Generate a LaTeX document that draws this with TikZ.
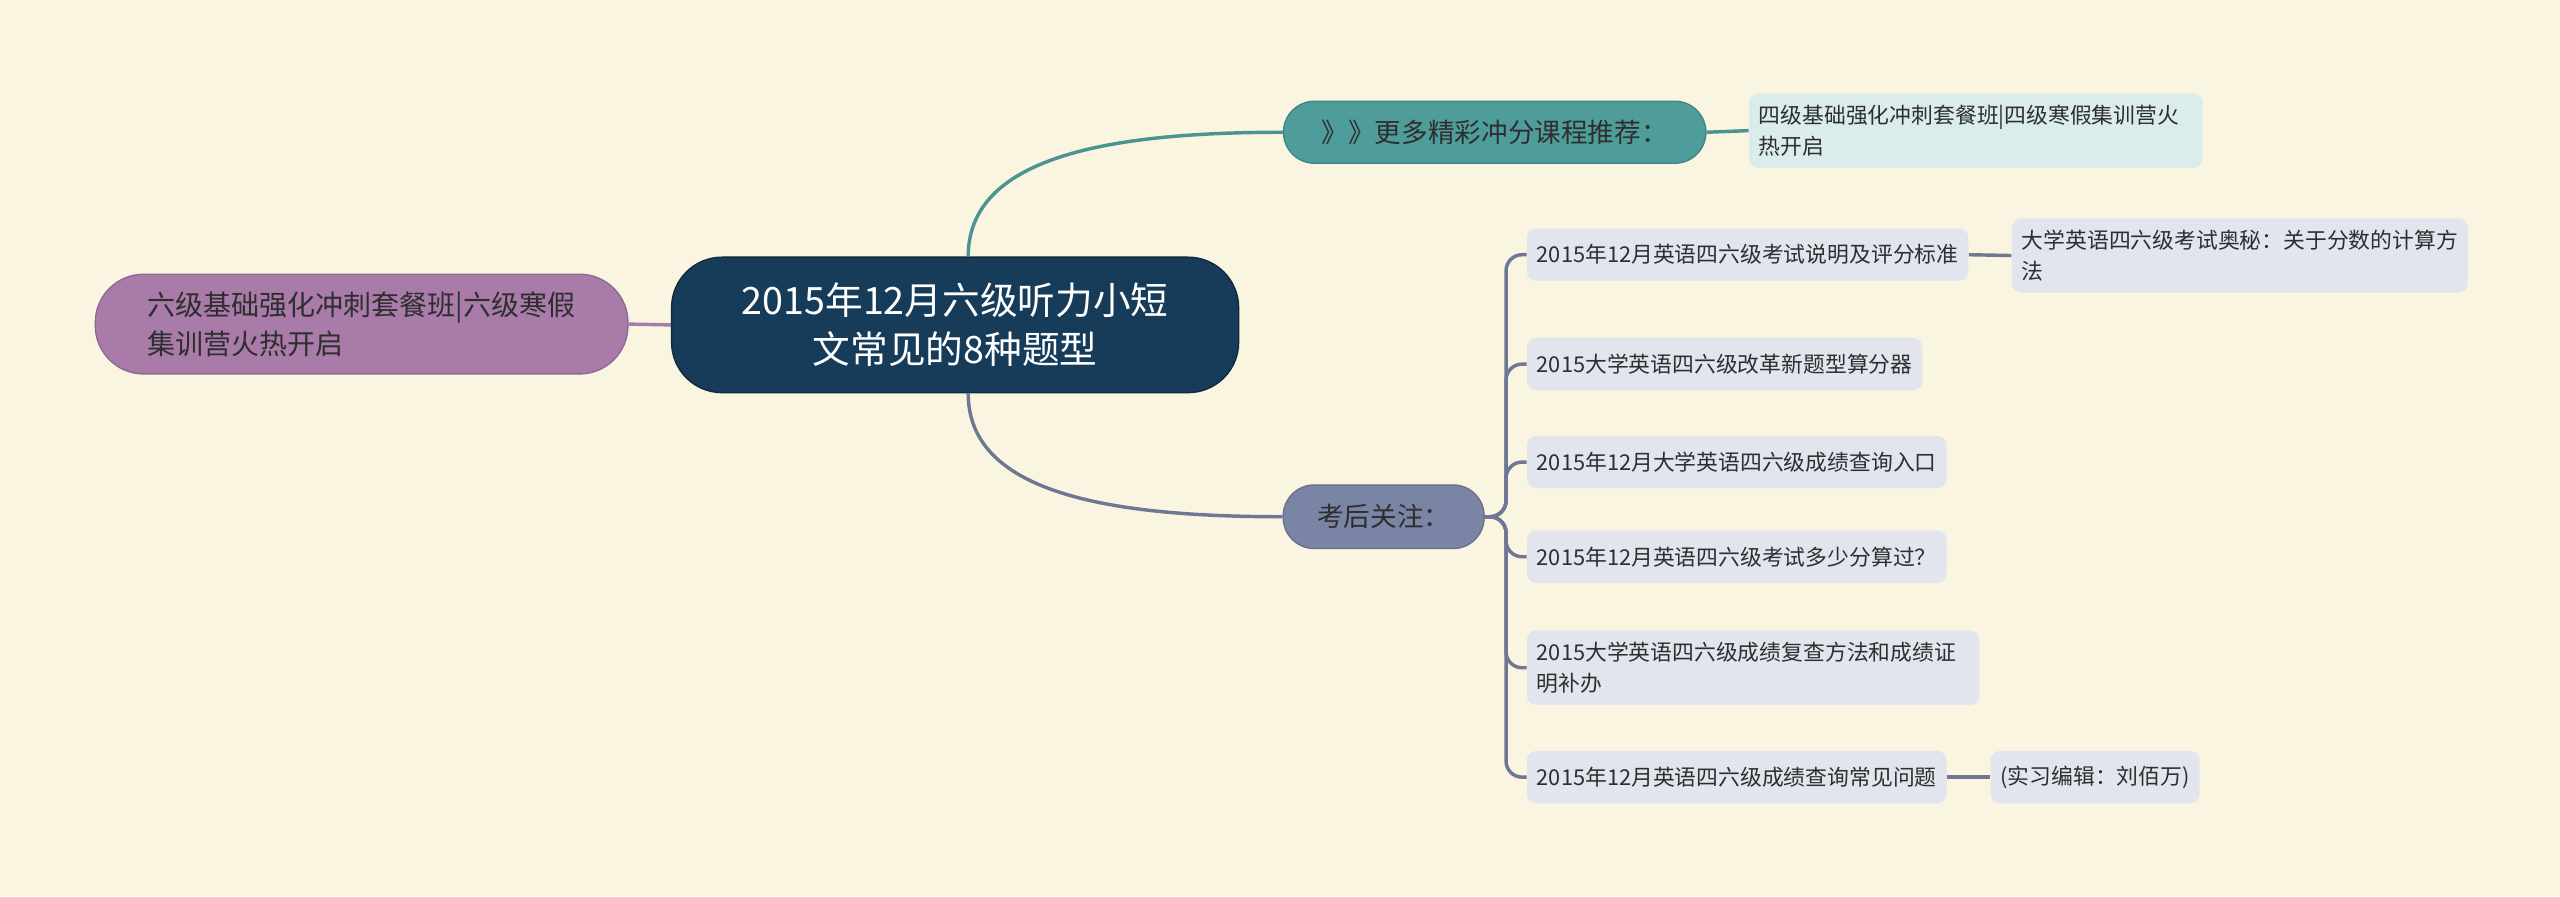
\documentclass[tikz,border=0pt]{standalone}
\usepackage{fontspec}
\setmainfont{Noto Sans CJK SC}
\usetikzlibrary{positioning}
\definecolor{bgc}{HTML}{FAF5E0}
\definecolor{rootc}{HTML}{163C5A}
\definecolor{purc}{HTML}{A87BA8}
\definecolor{tealc}{HTML}{4E9D9A}
\definecolor{slatec}{HTML}{7A85A5}
\definecolor{itemc}{HTML}{E2E5EE}
\definecolor{tsubc}{HTML}{DAEDEC}
\definecolor{txtc}{HTML}{2E2E2E}
\tikzset{
  rootbox/.style={fill=rootc,draw=rootc!70!black,line width=0.6pt,text=white,rounded corners=22pt,
    minimum width=247pt,minimum height=59pt,align=center,font=\fontsize{16.4}{21.5}\selectfont},
  mainbox/.style={text=txtc,line width=0.6pt,align=left,font=\fontsize{11.6}{17}\selectfont},
  item/.style={fill=itemc,text=txtc,rounded corners=4pt,anchor=west,align=left,inner xsep=4.3pt,
    inner ysep=5pt,minimum height=22.8pt,font=\fontsize{9.5}{13.5}\selectfont},
  link/.style={line width=1.5pt}
}
\begin{document}
\begin{tikzpicture}[x=0.025cm,y=-0.025cm]
\fill[bgc] (0,0) rectangle (1568,549);
\node[rootbox] (root) at (585,199) {2015年12月六级听力小短\\文常见的8种题型};
\node[mainbox,fill=purc,draw=purc!85!black,rounded corners=21pt,minimum width=232pt,minimum height=43.4pt,
  inner xsep=20pt,font=\fontsize{12.2}{17}\selectfont] (left) at (221.5,198.5) {六级基础强化冲刺套餐班|六级寒假\\集训营火热开启};
\node[mainbox,fill=tealc,draw=tealc!85!black,rounded corners=13.5pt,minimum width=184pt,minimum height=27pt] (recmd) at (915.5,81) {》》更多精彩冲分课程推荐：};
\node[mainbox,fill=slatec,draw=slatec!85!black,rounded corners=13.5pt,minimum width=87.5pt,minimum height=27.7pt] (after) at (847.5,316.5) {考后关注：};
\node[item,fill=tsubc,text width=189pt] (recmdsub) at (1071,80) {四级基础强化冲刺套餐班|四级寒假集训营火\\热开启};
\foreach \i/\y/\t in {1/156/{2015年12月英语四六级考试说明及评分标准},2/223/{2015大学英语四六级改革新题型算分器},
  3/283/{2015年12月大学英语四六级成绩查询入口},4/341/{2015年12月英语四六级考试多少分算过？},
  6/476/{2015年12月英语四六级成绩查询常见问题}}
  \node[item] (a\i) at (935,\y) {\t};
\node[item,text width=188.5pt] (a5) at (935,409) {2015大学英语四六级成绩复查方法和成绩证\\明补办};
\node[item] (a1sub) at (1232,156.5) {大学英语四六级考试奥秘：关于分数的计算方\\法};
\node[item] (a6sub) at (1219,476) {(实习编辑：刘佰万)};
% connectors
\draw[link,purc] (root.west) -- (left.east);
\draw[link,tealc!95!black] ([xshift=5.7pt]root.north) .. controls +(0,-60) and +(-110,0) .. (recmd.west);
\draw[link,tealc!95!black] (recmd.east) -- (recmdsub.west);
\draw[link,slatec!90!black] ([xshift=5.7pt]root.south) .. controls +(0,60) and +(-110,0) .. (after.west);
\foreach \i in {1,...,6}
  \draw[link,slatec!90!black,rounded corners=7pt] (after.east) -- ++(13,0) |- (a\i.west);
\draw[link,slatec!90!black] (a1.east) -- (a1sub.west);
\draw[link,slatec!90!black] (a6.east) -- (a6sub.west);
\end{tikzpicture}
\end{document}
